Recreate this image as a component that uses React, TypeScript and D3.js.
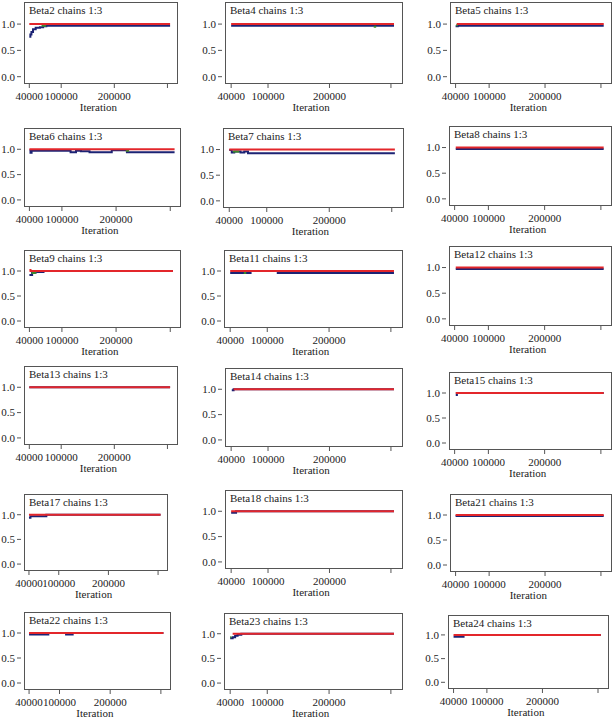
import React from 'react';
import * as d3 from 'd3';

type Pt = [number, number | null];

// tick values shared by every panel
const iterTicks = [40000, 100000, 200000, 300000];
const iterTickLabels = ['40000', '100000', '200000', ''];
const yTicks = [0, 0.5, 1];
const yTickLabels = ['0.0', '0.5', '1.0'];

const titles = [
  'Beta2', 'Beta4', 'Beta5', 'Beta6', 'Beta7', 'Beta8',
  'Beta9', 'Beta11', 'Beta12', 'Beta13', 'Beta14', 'Beta15',
  'Beta17', 'Beta18', 'Beta21', 'Beta22', 'Beta23', 'Beta24',
];

// red = ratio, blue = within, green = pooled (normalised BGR)
const beta2Red: Pt[] = [[40000, 1], [305000, 1]];
const beta2Blue: Pt[] = [[40000, 0.76], [42000, 0.8], [44000, 0.85], [47000, 0.9], [52000, 0.93], [60000, 0.94], [66000, 0.96], [72000, 0.97], [305000, 0.97]];
const beta2Green: Pt[] = [[63000, 0.97], [70000, 0.98]];

const beta4Red: Pt[] = [[40000, 1], [305000, 1]];
const beta4Blue: Pt[] = [[40000, 0.97], [305000, 0.97]];
const beta4Green: Pt[] = [[272000, 0.95], [276000, 0.95]];

const beta5Red: Pt[] = [[42000, 1], [305000, 1]];
const beta5Blue: Pt[] = [[40000, 0.96], [44000, 0.97], [305000, 0.97]];
const beta5Green: Pt[] = [[41000, 0.98], [44000, 0.98]];

const beta6Red: Pt[] = [[40000, 1], [308000, 1]];
const beta6Blue: Pt[] = [[40000, 0.98], [42000, 0.93], [44000, 0.97], [116000, 0.94], [126000, 0.97], [135000, 0.96], [151000, 0.94], [192000, 0.98], [220000, 0.94], [308000, 0.94]];
const beta6Green: Pt[] = [[135000, 0.97], [162000, null], [218000, 0.97], [224000, 0.97]];

const beta7Red: Pt[] = [[40000, 1], [305000, 1]];
const beta7Blue: Pt[] = [[40000, 0.99], [44000, 0.94], [48000, 0.96], [58000, 0.94], [64000, 0.96], [70000, 0.93], [305000, 0.93]];
const beta7Green: Pt[] = [[46000, 0.96], [56000, 0.96]];

const beta8Red: Pt[] = [[42000, 1], [305000, 1]];
const beta8Blue: Pt[] = [[42000, 0.97], [305000, 0.97]];

const beta9Red: Pt[] = [[40000, 1.02], [42000, 1], [305000, 1]];
const beta9Blue: Pt[] = [[40000, 0.92], [45000, 0.97], [52000, 0.98], [66000, 1], [305000, 1]];
const beta9Green: Pt[] = [[44000, 0.96], [50000, 0.99], [54000, 0.99]];

const beta11Red: Pt[] = [[40000, 1], [305000, 1]];
const beta11Blue: Pt[] = [[40000, 0.96], [73000, 1], [117000, 0.96], [305000, 0.96]];
const beta11Green: Pt[] = [[46000, 0.96], [50000, null], [62000, 0.96], [66000, 0.96]];

const beta12Red: Pt[] = [[42000, 1], [305000, 1]];
const beta12Blue: Pt[] = [[42000, 0.97], [305000, 0.97]];

const beta13Red: Pt[] = [[40000, 1], [305000, 1]];
const beta13Blue: Pt[] = [[40000, 1], [305000, 1]];

const beta14Red: Pt[] = [[44000, 1], [305000, 1]];
const beta14Blue: Pt[] = [[41000, 0.98], [44000, 1], [305000, 1]];

const beta15Red: Pt[] = [[42000, 1], [305000, 1]];
const beta15Blue: Pt[] = [[42000, 0.96], [44000, 1], [305000, 1]];

const beta17Red: Pt[] = [[40000, 1], [305000, 1]];
const beta17Blue: Pt[] = [[40000, 0.94], [43000, 0.97], [75000, 1], [305000, 1]];

const beta18Red: Pt[] = [[40000, 1], [305000, 1]];
const beta18Blue: Pt[] = [[40000, 0.97], [48000, 1], [305000, 1]];

const beta21Red: Pt[] = [[40000, 1], [305000, 1]];
const beta21Blue: Pt[] = [[40000, 0.98], [305000, 0.98]];

const beta22Red: Pt[] = [[40000, 1], [305000, 1]];
const beta22Blue: Pt[] = [[40000, 0.97], [78000, 1], [113000, 0.97], [126000, 1], [305000, 1]];

const beta23Red: Pt[] = [[44000, 1], [305000, 1]];
const beta23Blue: Pt[] = [[40000, 0.91], [44000, 0.93], [48000, 0.96], [52000, 0.98], [58000, 1], [305000, 1]];
const beta23Green: Pt[] = [[40000, 0.93], [42000, 0.93]];

const beta24Red: Pt[] = [[40000, 1], [305000, 1]];
const beta24Blue: Pt[] = [[40000, 0.96], [58000, 1], [305000, 1]];

const series: { red: Pt[]; blue: Pt[]; green?: Pt[] }[] = [
  { red: beta2Red, blue: beta2Blue, green: beta2Green },
  { red: beta4Red, blue: beta4Blue, green: beta4Green },
  { red: beta5Red, blue: beta5Blue, green: beta5Green },
  { red: beta6Red, blue: beta6Blue, green: beta6Green },
  { red: beta7Red, blue: beta7Blue, green: beta7Green },
  { red: beta8Red, blue: beta8Blue },
  { red: beta9Red, blue: beta9Blue, green: beta9Green },
  { red: beta11Red, blue: beta11Blue, green: beta11Green },
  { red: beta12Red, blue: beta12Blue },
  { red: beta13Red, blue: beta13Blue },
  { red: beta14Red, blue: beta14Blue },
  { red: beta15Red, blue: beta15Blue },
  { red: beta17Red, blue: beta17Blue },
  { red: beta18Red, blue: beta18Blue },
  { red: beta21Red, blue: beta21Blue },
  { red: beta22Red, blue: beta22Blue },
  { red: beta23Red, blue: beta23Blue, green: beta23Green },
  { red: beta24Red, blue: beta24Blue },
];

// plot box of each panel: left, top, right, bottom (page pixels)
const boxes = [
  [24, 2, 177, 83], [225, 2, 402, 83], [450, 2, 611, 83],
  [24, 128, 180, 206], [223, 128, 403, 207], [449, 126, 611, 205],
  [24, 250, 180, 327], [224, 250, 402, 327], [449, 246, 611, 325],
  [24, 366, 177, 444], [225, 368, 402, 446], [449, 372, 611, 449],
  [24, 494, 167, 570], [225, 490, 402, 568], [450, 494, 611, 571],
  [24, 612, 170, 689], [224, 613, 402, 689], [448, 615, 608, 688],
];

const FONT = "'Liberation Serif', 'DejaVu Serif', serif";
const RED = '#e3262b';
const BLUE = '#1c2374';
const GREEN = '#3c8a2e';

const Panel = ({ idx }: { idx: number }) => {
  const [l, t, r, b] = boxes[idx];
  const s = series[idx];
  const x = d3.scaleLinear().domain([30000, 318000]).range([l, r]);
  const y = d3.scaleLinear().domain([-0.12, 1.42]).range([b, t]);
  const line = d3
    .line<Pt>()
    .defined((d) => d[1] !== null)
    .curve(d3.curveStepAfter)
    .x((d) => x(d[0]))
    .y((d) => y(d[1] as number));

  return (
    <g style={{ fontFamily: FONT, fontSize: '11px' }} fill="#222">
      <rect x={l + 0.5} y={t + 0.5} width={r - l} height={b - t} fill="#fff" stroke="#555" strokeWidth={1} />
      <path d={line(s.blue) || ''} fill="none" stroke={BLUE} strokeWidth={2} />
      {s.green && <path d={line(s.green) || ''} fill="none" stroke={GREEN} strokeWidth={2} />}
      <path d={line(s.red) || ''} fill="none" stroke={RED} strokeWidth={2} />
      <text x={l + 5} y={t + 12}>{titles[idx]} chains 1:3</text>
      {yTicks.map((v, i) => (
        <g key={v}>
          <line x1={l - 7} x2={l - 3} y1={y(v)} y2={y(v)} stroke="#555" />
          <text x={l - 9} y={y(v)} dy="0.35em" textAnchor="end">{yTickLabels[i]}</text>
        </g>
      ))}
      {iterTicks.map((v, i) => (
        <g key={v}>
          <line x1={x(v)} x2={x(v)} y1={b + 1} y2={b + 5} stroke="#555" />
          <text x={x(v)} y={b + 17} textAnchor="middle">{iterTickLabels[i]}</text>
        </g>
      ))}
      <text x={(x(40000) + x(300000)) / 2} y={b + 28} textAnchor="middle">Iteration</text>
    </g>
  );
};

export default function App() {
  return (
    <svg width={613} height={720} style={{ position: 'absolute', left: 0, top: 0, background: '#fff' }}>
      {titles.map((_, i) => (
        <Panel key={i} idx={i} />
      ))}
    </svg>
  );
}
